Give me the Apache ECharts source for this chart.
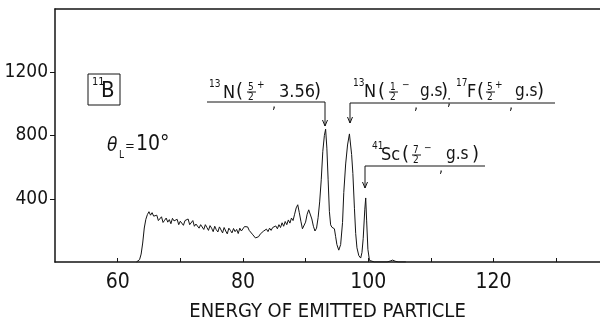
<!DOCTYPE html>
<html>
<head>
<meta charset="utf-8">
<script src="https://cdn.jsdelivr.net/npm/echarts@6/dist/echarts.min.js"></script>
<style>
  html, body { margin: 0; padding: 0; background: #fff; }
  #chart { width: 600px; height: 325px; }
</style>
</head>
<body>
<div id="chart"></div>
<script>
// 能量 (x) 与计数 (y)
const energy = [
  63.0, 63.5, 63.75,
  64.0, 64.25, 64.5, 64.75, 65.0, 65.25, 65.5, 65.75,
  66.0, 66.25, 66.5, 66.75, 67.0, 67.25, 67.5, 67.75,
  68.0, 68.25, 68.5, 68.75, 69.0, 69.25, 69.5, 69.75,
  70.0, 70.25, 70.5, 70.75, 71.0, 71.25, 71.5, 71.75,
  72.0, 72.25, 72.5, 72.75, 73.0, 73.25, 73.5, 73.75,
  74.0, 74.25, 74.5, 74.75, 75.0, 75.25, 75.5, 75.75,
  76.0, 76.25, 76.5, 76.75, 77.0, 77.25, 77.5, 77.75,
  78.0, 78.25, 78.5, 78.75, 79.0, 79.25, 79.5, 79.75,
  80.0, 80.25, 80.5, 80.75, 81.0, 81.25, 81.5, 81.75,
  82.0, 82.25, 82.5, 82.75, 83.0, 83.25, 83.5, 83.75,
  84.0, 84.25, 84.5, 84.75, 85.0, 85.25, 85.5, 85.75,
  86.0, 86.25, 86.5, 86.75, 87.0, 87.25, 87.5, 87.75,
  88.0, 88.25, 88.5, 88.75, 89.0, 89.25, 89.5, 89.75,
  90.0, 90.25, 90.5, 90.75, 91.0, 91.25, 91.5, 91.75,
  92.0, 92.25, 92.5, 92.75, 93.0, 93.2, 93.4, 93.6, 93.8,
  94.0, 94.2, 94.4, 94.6, 94.8, 95.0, 95.3, 95.6, 95.9,
  96.1, 96.4, 96.7, 97.0, 97.15, 97.35, 97.55, 97.8,
  98.0, 98.2, 98.5, 98.8, 99.0, 99.2, 99.45, 99.6, 99.75, 99.95,
  100.2, 100.5, 101.0, 103.0, 103.5, 103.9, 104.3, 104.8, 106.0
]
const counts = [
  0, 15, 50,
  120, 215, 270, 300, 318, 296, 312, 290,
  278, 296, 262, 270, 286, 250, 264, 278,
  252, 268, 242, 276, 260, 250, 270, 236,
  258, 264, 232, 262, 250, 272, 236, 244,
  262, 226, 240, 252, 214, 236, 228, 206,
  236, 218, 200, 230, 214, 192, 226, 204,
  190, 222, 210, 184, 218, 196, 178, 214,
  200, 184, 212, 192, 206, 180, 214, 196,
  208, 224, 212, 222, 200, 196, 176, 170,
  152, 146, 160, 176, 168, 194, 182, 208,
  192, 214, 200, 218, 206, 228, 210, 236,
  218, 248, 226, 256, 236, 266, 246, 278,
  262, 302, 342, 362, 312, 258, 210, 204,
  252, 302, 330, 322, 272, 226, 196, 214,
  280, 380, 520, 700, 800, 840, 720, 520, 320,
  235, 220, 228, 210, 160, 110, 75, 110, 250,
  440, 620, 740, 810, 820, 680, 560, 340,
  180, 90, 40, 25, 60, 150, 330, 405, 260, 80,
  10, 2, 0, 0, 6, 12, 5, 0, 0
]
const xTicks = [60, 70, 80, 90, 100, 110, 120, 130]
const xLabels = [60, 80, 100, 120]
const yLabels = [400, 800, 1200]

const FONT = '"Liberation Sans Narrow", "DejaVu Sans Condensed", "Liberation Sans", sans-serif'
const INK = '#141414'

const spectrum = energy.map((e, i) => [e, counts[i]])

// 文字、线段、箭头
const txt = (x, y, s, size, extra) => ({
  type: 'text', x: x, y: y, silent: true,
  style: Object.assign({
    text: s, fill: INK, font: size + 'px ' + FONT,
    textAlign: 'left', textVerticalAlign: 'middle'
  }, extra || {})
})
const seg = (x1, y1, x2, y2) => ({
  type: 'line', silent: true,
  shape: { x1: x1, y1: y1, x2: x2, y2: y2 },
  style: { stroke: INK, lineWidth: 1 }
})
const arrow = (x, y) => ({
  type: 'polyline', silent: true,
  shape: { points: [[x - 2.5, y - 6], [x, y], [x + 2.5, y - 6]] },
  style: { stroke: INK, lineWidth: 1, fill: null }
})
const frac = (x, y, a, b) => [
  txt(x, y - 5, a, 10), seg(x - 1, y, x + 8, y), txt(x, y + 5, b, 10)
]

const graphics = [
  // 11B 方框
  { type: 'rect', silent: true, shape: { x: 88, y: 74, width: 32, height: 31 },
    style: { stroke: INK, lineWidth: 1, fill: null } },
  txt(92, 82, '11', 11),
  txt(101, 91, 'B', 22),
  // θL = 10°
  txt(107, 146, 'θ', 19, { font: 'italic 19px ' + FONT }),
  txt(119, 155, 'L', 10),
  txt(125, 147, '=', 13),
  txt(136, 145, '10°', 21),

  // 13N(5/2+, 3.56)
  txt(209, 84, '13', 10),
  txt(223, 93, 'N', 18),
  txt(236, 92, '(', 20),
  ...frac(248, 92, '5', '2'),
  txt(257, 85, '+', 10),
  txt(272, 104, ',', 14),
  txt(279, 92, '3.56', 18),
  txt(314, 92, ')', 20),
  seg(207, 102, 325, 102), seg(325, 102, 325, 126), arrow(325, 126),

  // 13N(1/2-, g.s); 17F(5/2+, g.s)
  txt(353, 83, '13', 10),
  txt(364, 92, 'N', 18),
  txt(378, 92, '(', 20),
  ...frac(390, 92, '1', '2'),
  txt(402, 85, '−', 10),
  txt(414, 105, ',', 14),
  txt(420, 92, 'g.s', 17),
  txt(441, 92, ')', 20),
  txt(447, 101, ';', 14),
  txt(456, 83, '17', 10),
  txt(467, 92, 'F', 18),
  txt(477, 92, '(', 20),
  ...frac(487, 92, '5', '2'),
  txt(495, 85, '+', 10),
  txt(509, 105, ',', 14),
  txt(515, 92, 'g.s', 17),
  txt(537, 92, ')', 20),
  seg(350, 103, 555, 103), seg(350, 103, 350, 123), arrow(350, 123),

  // 41Sc(7/2-, g.s)
  txt(372, 146, '41', 10),
  txt(381, 155, 'Sc', 18),
  txt(402, 155, '(', 20),
  ...frac(413, 155, '7', '2'),
  txt(424, 148, '−', 10),
  txt(439, 168, ',', 14),
  txt(446, 155, 'g.s', 17),
  txt(472, 155, ')', 20),
  seg(365, 166, 485, 166), seg(365, 166, 365, 188), arrow(365, 188)
]

const chart = echarts.init(document.getElementById('chart'), null, { renderer: 'canvas' })
chart.setOption({
  animation: false,
  backgroundColor: '#fff',
  grid: { left: 55, right: 0, top: 9, bottom: 63, containLabel: false, outerBoundsMode: 'none' },
  xAxis: [
    {
      type: 'value', min: 50, max: 137, interval: 10,
      name: 'ENERGY OF EMITTED PARTICLE',
      nameLocation: 'middle', nameGap: 40,
      nameTextStyle: { color: INK, fontSize: 20, fontFamily: FONT },
      axisLine: { lineStyle: { color: INK, width: 1.5 } },
      axisTick: { inside: true, length: 4, customValues: xTicks, lineStyle: { color: INK, width: 1 } },
      axisLabel: {
        color: INK, fontSize: 21, fontFamily: FONT, margin: 10,
        customValues: xLabels,
        formatter: v => (xLabels.indexOf(v) >= 0 ? String(v) : '')
      },
      splitLine: { show: false }
    },
    {
      type: 'value', position: 'top', min: 50, max: 137,
      axisLine: { show: true, lineStyle: { color: INK, width: 1.5 } },
      axisTick: { show: false }, axisLabel: { show: false }, splitLine: { show: false }
    }
  ],
  yAxis: {
    type: 'value', min: 0, max: 1600, interval: 400,
    axisLine: { show: true, lineStyle: { color: INK, width: 1.5 } },
    axisTick: { show: true, length: 5, customValues: yLabels, lineStyle: { color: INK, width: 1 } },
    axisLabel: {
      color: INK, fontSize: 19, fontFamily: FONT, margin: 7,
      customValues: yLabels,
      formatter: v => (yLabels.indexOf(v) >= 0 ? String(v) : '')
    },
    splitLine: { show: false }
  },
  series: [{
    type: 'line',
    data: spectrum,
    showSymbol: false,
    lineStyle: { color: INK, width: 1 },
    z: 3
  }],
  graphic: graphics
})
</script>
</body>
</html>
